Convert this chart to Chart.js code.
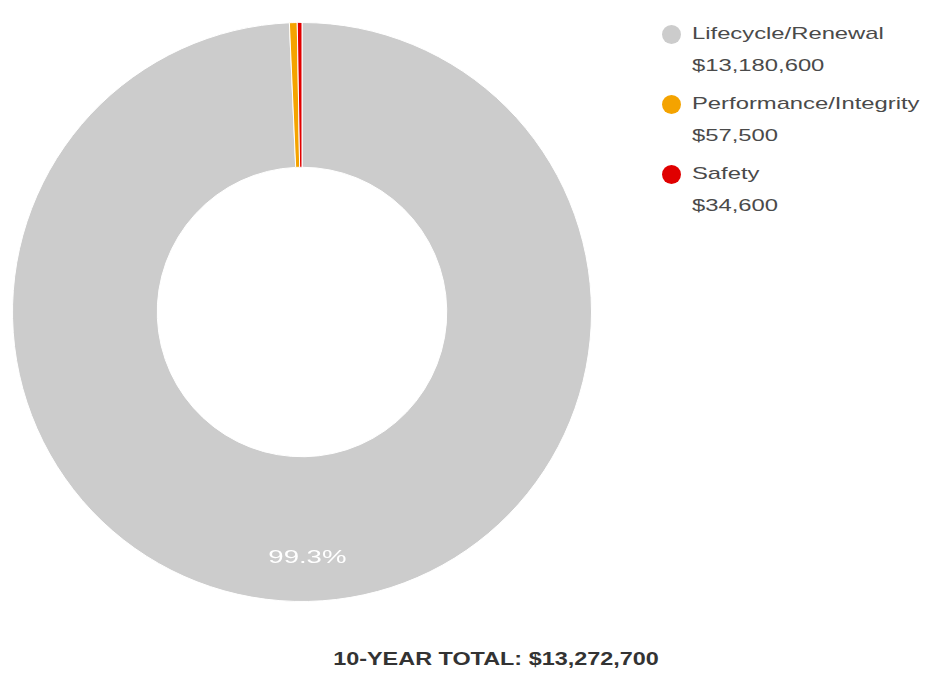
<!DOCTYPE html>
<html>
<head>
<meta charset="utf-8">
<script src="https://cdn.jsdelivr.net/npm/chart.js@4.4.1/dist/chart.umd.min.js"></script>
<style>
  body { margin: 0; background: #fff; font-family: Arial, "Liberation Sans", sans-serif; }
  #wrap { position: relative; width: 931px; height: 677px; }
  #donut { position: absolute; left: 12px; top: 22px; }
  #legend { position: absolute; left: 662px; top: 22px; color: #4a4a4a; font-size: 17px; }
  .item { position: relative; padding-left: 30px; height: 70px; }
  .dot { position: absolute; left: 0px; top: 3px; width: 19px; height: 19px; border-radius: 50%; }
  .line { line-height: 24px; height: 32px; white-space: nowrap; transform: scaleX(1.4); transform-origin: left center; }
  #total { position: absolute; left: 0; top: 649px; width: 992px; text-align: center; font-weight: bold; font-size: 18px; color: #333; transform: scaleX(1.3); transform-origin: 496px center; }
</style>
</head>
<body>
<div id="wrap">
  <canvas id="donut" width="580" height="580"></canvas>
  <div id="legend"></div>
  <div id="total"></div>
</div>
<script>
const categories = ['Lifecycle/Renewal', 'Performance/Integrity', 'Safety'];
const amounts = [13180600, 57500, 34600];
const colors = ['#cccccc', '#f4a300', '#e00000'];
const totalLabel = '10-YEAR TOTAL: $13,272,700';

const fmt = v => '$' + v.toLocaleString('en-US');
const sum = amounts.reduce((a, b) => a + b, 0);

const legend = document.getElementById('legend');
legend.innerHTML = categories.map((c, i) => `
  <div class="item">
    <span class="dot" style="background:${colors[i]}"></span>
    <div class="line">${c}</div>
    <div class="line">${fmt(amounts[i])}</div>
  </div>`).join('');
document.getElementById('total').textContent = totalLabel;

// draw percentage text inside big slices
const sliceText = {
  id: 'sliceText',
  afterDatasetsDraw(chart) {
    const ctx = chart.ctx;
    const meta = chart.getDatasetMeta(0);
    meta.data.forEach((arc, i) => {
      const pct = amounts[i] / sum * 100;
      if (pct < 5) return;
      const p = arc.getProps(['x', 'y', 'startAngle', 'endAngle', 'innerRadius', 'outerRadius'], true);
      const mid = (p.startAngle + p.endAngle) / 2;
      const r = p.innerRadius + (p.outerRadius - p.innerRadius) * 0.7;
      ctx.save();
      ctx.translate(p.x + Math.cos(mid) * r, p.y + Math.sin(mid) * r);
      ctx.scale(1.45, 1);
      ctx.fillStyle = '#ffffff';
      ctx.font = '19px Arial, "Liberation Sans", sans-serif';
      ctx.textAlign = 'center';
      ctx.textBaseline = 'middle';
      ctx.fillText(pct.toFixed(1) + '%', 0, 0);
      ctx.restore();
    });
  }
};

new Chart(document.getElementById('donut'), {
  type: 'doughnut',
  data: {
    labels: categories,
    datasets: [{
      data: amounts,
      backgroundColor: colors,
      borderColor: '#ffffff',
      borderWidth: 1
    }]
  },
  options: {
    responsive: false,
    animation: false,
    cutout: '50%',
    plugins: { legend: { display: false }, tooltip: { enabled: false } }
  },
  plugins: [sliceText]
});
</script>
</body>
</html>
